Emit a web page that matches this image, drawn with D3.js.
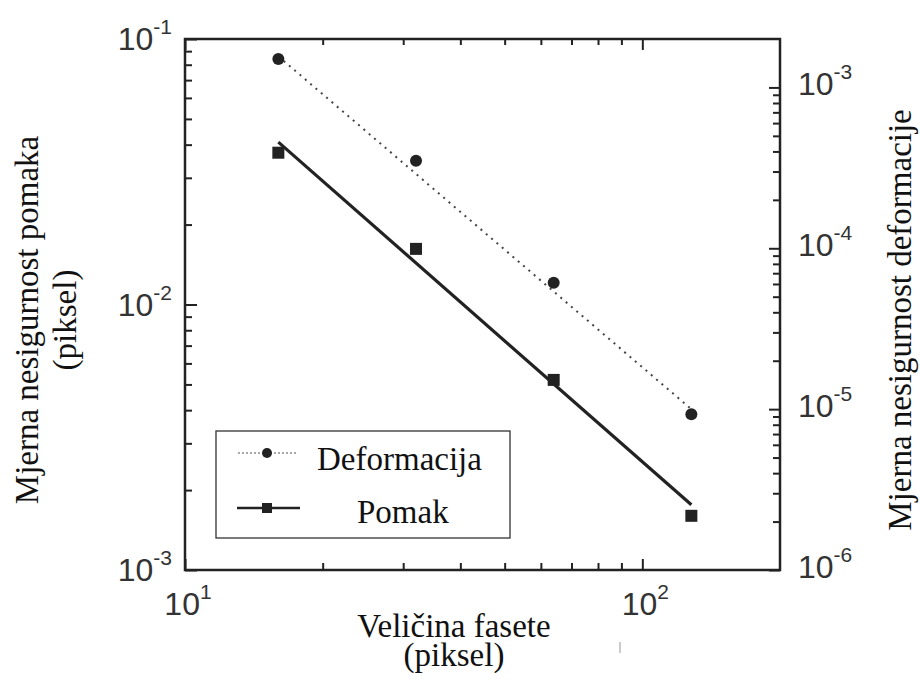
<!DOCTYPE html>
<html><head><meta charset="utf-8">
<script src="https://cdn.jsdelivr.net/npm/d3@7"></script>
<style>body{margin:0;background:#fff}</style></head>
<body>
<svg id="c" width="920" height="680"></svg>
<script>
// ---- data ----
const facetSize = [16, 32, 64, 128];                 // Veličina fasete (piksel)
const deformacija = [1.5e-3, 3.5e-4, 6.1e-5, 9.3e-6]; // right axis
const pomak = [0.0373, 0.0162, 0.0052, 0.0016];      // left axis (piksel)
const fitX = [16, 128];
const fitDeformacija = [1.56e-3, 1.0e-5];
const fitPomak = [0.0409, 0.00176];
const xTickValues = [10, 100];
const xTickExp = ["1", "2"];
const leftTickValues = [1e-1, 1e-2, 1e-3];
const leftTickExp = ["-1", "-2", "-3"];
const rightTickValues = [1e-3, 1e-4, 1e-5, 1e-6];
const rightTickExp = ["-3", "-4", "-5", "-6"];
const seriesNames = ["Deformacija", "Pomak"];

// ---- layout ----
const L = 185, R = 780, T = 39, B = 570;
const svg = d3.select("#c");
const x = d3.scaleLog().domain([10, 200]).range([L, R]);
const yL = d3.scaleLog().domain([1e-3, 1e-1]).range([B, T]);
const yR = d3.scaleLog().domain([1e-6, 2e-3]).range([B, T]);

function minors(lo, hi) { // minor decade ticks
  const out = [];
  for (let e = Math.floor(Math.log10(lo)); e < Math.ceil(Math.log10(hi)); e++)
    for (let k = 2; k <= 9; k++) { const v = k * Math.pow(10, e); if (v > lo && v < hi) out.push(v); }
  return out;
}
const ink = "#222";
function styleAxis(g) {
  g.select(".domain").remove();
  g.selectAll("line").attr("stroke", ink).attr("stroke-width", 2);
}
// bottom
svg.append("g").attr("transform", `translate(0,${B})`)
  .call(d3.axisBottom(x).tickValues(minors(10, 200)).tickSize(-7).tickFormat("")).call(styleAxis);
svg.append("g").attr("transform", `translate(0,${B})`)
  .call(d3.axisBottom(x).tickValues(xTickValues).tickSize(-11).tickFormat("")).call(styleAxis);
// top
svg.append("g").attr("transform", `translate(0,${T})`)
  .call(d3.axisTop(x).tickValues(minors(10, 200)).tickSize(-6).tickFormat("")).call(styleAxis);
svg.append("g").attr("transform", `translate(0,${T})`)
  .call(d3.axisTop(x).tickValues(xTickValues).tickSize(-11).tickFormat("")).call(styleAxis);
// left
svg.append("g").attr("transform", `translate(${L},0)`)
  .call(d3.axisLeft(yL).tickValues(minors(1e-3, 1e-1)).tickSize(-7).tickFormat("")).call(styleAxis);
svg.append("g").attr("transform", `translate(${L},0)`)
  .call(d3.axisLeft(yL).tickValues(leftTickValues).tickSize(-12).tickFormat("")).call(styleAxis);
// right
svg.append("g").attr("transform", `translate(${R},0)`)
  .call(d3.axisRight(yR).tickValues(minors(1e-6, 2e-3)).tickSize(-7).tickFormat("")).call(styleAxis);
svg.append("g").attr("transform", `translate(${R},0)`)
  .call(d3.axisRight(yR).tickValues(rightTickValues).tickSize(-11).tickFormat("")).call(styleAxis);

// frame
svg.append("rect").attr("x", L).attr("y", T).attr("width", R - L).attr("height", B - T)
  .attr("fill", "none").attr("stroke", ink).attr("stroke-width", 2.5);

// tick labels
const sans = "'Liberation Sans', Arial, sans-serif";
function powLabel(xp, yp, exp, anchor) {
  const t = svg.append("text").attr("x", xp).attr("y", yp).attr("text-anchor", anchor)
    .attr("font-family", sans).attr("font-size", 32).attr("fill", "#333");
  t.append("tspan").text("10");
  t.append("tspan").attr("font-size", 21).attr("dy", -16).text(exp);
}
leftTickValues.forEach((v, i) => powLabel(172, yL(v) + 11, leftTickExp[i], "end"));
rightTickValues.forEach((v, i) => powLabel(798, yR(v) + 8, rightTickExp[i], "start"));
xTickValues.forEach((v, i) => powLabel(x(v) + 3, 615, xTickExp[i], "middle"));

// fit lines
svg.append("path").datum(fitX.map((v, i) => [v, fitDeformacija[i]]))
  .attr("d", d3.line().x(d => x(d[0])).y(d => yR(d[1]))).attr("fill", "none").attr("stroke", "#444")
  .attr("stroke-width", 2).attr("stroke-dasharray", "2,5");
svg.append("path").datum(fitX.map((v, i) => [v, fitPomak[i]]))
  .attr("d", d3.line().x(d => x(d[0])).y(d => yL(d[1]))).attr("fill", "none").attr("stroke", ink)
  .attr("stroke-width", 3.2);

// markers
svg.selectAll("circle.def").data(facetSize).join("circle").attr("class", "def")
  .attr("cx", d => x(d)).attr("cy", (d, i) => yR(deformacija[i])).attr("r", 6).attr("fill", ink);
svg.selectAll("rect.pom").data(facetSize).join("rect").attr("class", "pom")
  .attr("x", d => x(d) - 6).attr("y", (d, i) => yL(pomak[i]) - 6).attr("width", 12).attr("height", 12).attr("fill", ink);

// legend
const serif = "'Liberation Serif', 'Times New Roman', serif";
const lg = svg.append("g");
lg.append("rect").attr("x", 216).attr("y", 431).attr("width", 294).attr("height", 107)
  .attr("fill", "#fff").attr("stroke", "#333").attr("stroke-width", 1.3);
lg.append("line").attr("x1", 238).attr("x2", 298).attr("y1", 453).attr("y2", 453)
  .attr("stroke", "#555").attr("stroke-width", 1).attr("stroke-dasharray", "2,2");
lg.append("circle").attr("cx", 267).attr("cy", 453).attr("r", 5).attr("fill", ink);
lg.append("text").attr("x", 317).attr("y", 470).attr("font-family", serif).attr("font-size", 33)
  .attr("fill", "#111").text(seriesNames[0]);
lg.append("line").attr("x1", 237).attr("x2", 300).attr("y1", 508).attr("y2", 508)
  .attr("stroke", ink).attr("stroke-width", 2.5);
lg.append("rect").attr("x", 262).attr("y", 503).attr("width", 10).attr("height", 10).attr("fill", ink);
lg.append("text").attr("x", 357).attr("y", 523).attr("font-family", serif).attr("font-size", 33)
  .attr("fill", "#111").text(seriesNames[1]);

// axis titles
function title(xp, yp, rot, txt) {
  svg.append("text").attr("transform", `translate(${xp},${yp}) rotate(${rot})`)
    .attr("text-anchor", "middle").attr("font-family", serif).attr("font-size", 33)
    .attr("fill", "#111").text(txt);
}
title(38, 320, -90, "Mjerna nesigurnost pomaka");
title(76, 320, -90, "(piksel)");
title(911, 320, -90, "Mjerna nesigurnost deformacije");
title(454, 637, 0, "Veličina fasete");
title(454, 666, 0, "(piksel)");

// small scan mark below the axis in the original
svg.append("line").attr("x1", 620).attr("x2", 620).attr("y1", 642).attr("y2", 653)
  .attr("stroke", "#999").attr("stroke-width", 1);
</script>
</body></html>
